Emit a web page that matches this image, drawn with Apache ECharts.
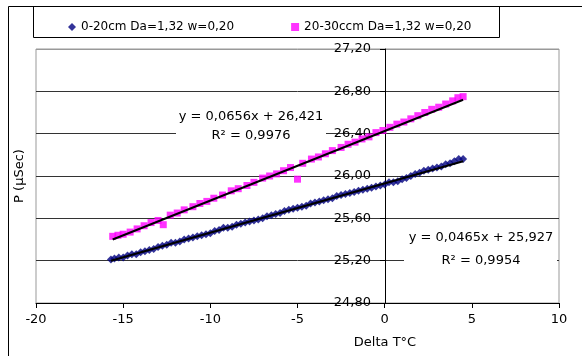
<!DOCTYPE html>
<html>
<head>
<meta charset="utf-8">
<script src="https://cdn.jsdelivr.net/npm/echarts@6/dist/echarts.min.js"></script>
<style>
  html, body { margin: 0; padding: 0; background: #fff; }
  #chart { width: 582px; height: 356px; }
</style>
</head>
<body>
<div id="chart"></div>
<script>
// series names
const nameBlue = '0-20cm Da=1,32 w=0,20';
const namePink = '20-30ccm Da=1,32 w=0,20';

// 0-20cm points [Delta T, P]
const blueData = [
  [-15.7, 25.21], [-15.5, 25.22], [-15.25, 25.23], [-15.0, 25.23], [-14.75, 25.25],
  [-14.5, 25.26], [-14.25, 25.26], [-14.0, 25.28], [-13.75, 25.29], [-13.5, 25.30],
  [-13.25, 25.31], [-13.0, 25.33], [-12.75, 25.34], [-12.5, 25.35], [-12.25, 25.37],
  [-12.0, 25.37], [-11.75, 25.38], [-11.5, 25.40], [-11.25, 25.41], [-11.0, 25.42],
  [-10.75, 25.43], [-10.5, 25.44], [-10.25, 25.45], [-10.0, 25.46], [-9.75, 25.48],
  [-9.5, 25.49], [-9.25, 25.51], [-9.0, 25.51], [-8.75, 25.52], [-8.5, 25.54],
  [-8.25, 25.55], [-8.0, 25.56], [-7.75, 25.57], [-7.5, 25.58], [-7.25, 25.59],
  [-7.0, 25.60], [-6.75, 25.62], [-6.5, 25.63], [-6.25, 25.64], [-6.0, 25.65],
  [-5.75, 25.67], [-5.5, 25.68], [-5.25, 25.69], [-5.0, 25.70], [-4.75, 25.71],
  [-4.5, 25.72], [-4.25, 25.74], [-4.0, 25.75], [-3.75, 25.76], [-3.5, 25.77],
  [-3.25, 25.78], [-3.0, 25.79], [-2.75, 25.81], [-2.5, 25.82], [-2.25, 25.83],
  [-2.0, 25.84], [-1.75, 25.85], [-1.5, 25.86], [-1.25, 25.87], [-1.0, 25.88],
  [-0.75, 25.89], [-0.5, 25.90], [-0.25, 25.91], [0.0, 25.92], [0.25, 25.94],
  [0.5, 25.94], [0.75, 25.95], [1.0, 25.97], [1.25, 25.98], [1.5, 26.00],
  [1.75, 26.02], [2.0, 26.03], [2.25, 26.05], [2.5, 26.06], [2.75, 26.07],
  [3.0, 26.08], [3.25, 26.09], [3.5, 26.11], [3.75, 26.12], [4.0, 26.14],
  [4.25, 26.16], [4.5, 26.16]
];

// 20-30cm points [Delta T, P]
const pinkData = [
  [-15.6, 25.43], [-15.3, 25.44], [-15.0, 25.45], [-14.6, 25.47], [-14.2, 25.50],
  [-13.8, 25.53], [-13.4, 25.56], [-13.0, 25.58], [-12.7, 25.54], [-12.3, 25.63],
  [-11.9, 25.65], [-11.5, 25.68], [-11.0, 25.71], [-10.6, 25.74], [-10.2, 25.76],
  [-9.8, 25.79], [-9.3, 25.82], [-8.8, 25.86], [-8.4, 25.88], [-7.9, 25.91],
  [-7.5, 25.94], [-7.0, 25.98], [-6.6, 26.00], [-6.2, 26.02], [-5.8, 26.05],
  [-5.4, 26.08], [-5.0, 25.97], [-4.7, 26.12], [-4.2, 26.16], [-3.8, 26.18],
  [-3.4, 26.21], [-3.0, 26.24], [-2.5, 26.27], [-2.1, 26.30], [-1.7, 26.32],
  [-1.3, 26.35], [-0.9, 26.37], [-0.5, 26.41], [-0.1, 26.43], [0.3, 26.46],
  [0.7, 26.49], [1.1, 26.51], [1.5, 26.54], [1.9, 26.57], [2.3, 26.60],
  [2.7, 26.63], [3.1, 26.65], [3.5, 26.68], [3.9, 26.71], [4.2, 26.74],
  [4.5, 26.75]
];

// trendline end points
const blueTrend = [[-15.7, 25.20], [4.5, 26.14]];
const pinkTrend = [[-15.6, 25.40], [4.5, 26.72]];

// trendline labels
const pinkEq = ['y = 0,0656x + 26,421', 'R² = 0,9976'];
const blueEq = ['y = 0,0465x + 25,927', 'R² = 0,9954'];

const font = '"DejaVu Sans", sans-serif';
const fmtY = v => v.toFixed(2).replace('.', ',');

let myChart = echarts.init(document.getElementById('chart'));
myChart.setOption({
  backgroundColor: '#fff',
  animation: false,
  textStyle: { fontFamily: font },
  grid: {
    left: 36, right: 23, top: 49, bottom: 53,
    containLabel: false,
    outerBoundsMode: 'none',
    show: true,
    borderColor: '#999',
    borderWidth: 1,
    backgroundColor: '#fff'
  },
  legend: {
    left: 63,
    top: 16,
    itemGap: 57,
    itemWidth: 8,
    itemHeight: 8,
    textStyle: { color: '#000', fontSize: 12, fontFamily: font },
    data: [nameBlue, namePink]
  },
  xAxis: {
    type: 'value',
    min: -20,
    max: 10,
    interval: 5,
    axisLine: { onZero: false, lineStyle: { color: '#000', width: 1 } },
    axisTick: { show: true, length: 5, lineStyle: { color: '#000' } },
    axisLabel: { color: '#000', fontSize: 13, margin: 10 },
    splitLine: { show: false }
  },
  yAxis: {
    type: 'value',
    position: 'left',
    offset: -349,
    min: 24.8,
    max: 27.2,
    interval: 0.4,
    axisLine: { show: true, onZero: false, lineStyle: { color: '#000', width: 1 } },
    axisTick: { show: true, length: 5, lineStyle: { color: '#000' } },
    axisLabel: { color: '#000', fontSize: 13, margin: 14, formatter: fmtY },
    splitLine: {
      show: true,
      lineStyle: { color: ['#000', '#333', '#333', '#333', '#333', '#333', '#999'], width: 1 }
    }
  },
  series: [
    {
      name: nameBlue,
      type: 'scatter',
      symbol: 'diamond',
      symbolSize: 8,
      itemStyle: { color: '#000080' },
      data: blueData,
      z: 3
    },
    {
      name: namePink,
      type: 'scatter',
      symbol: 'rect',
      symbolSize: 7,
      itemStyle: { color: '#ff00ff' },
      data: pinkData,
      z: 3
    },
    {
      name: 'trend1',
      type: 'line',
      data: pinkTrend,
      showSymbol: false,
      symbol: 'none',
      lineStyle: { color: '#000', width: 2 },
      z: 4
    },
    {
      name: 'trend2',
      type: 'line',
      data: blueTrend,
      showSymbol: false,
      symbol: 'none',
      lineStyle: { color: '#000', width: 2 },
      z: 4
    }
  ],
  graphic: [
    // outer chart frame
    { type: 'rect', z: 100, shape: { x: 8.5, y: 6.5, width: 600, height: 400 },
      style: { fill: 'none', stroke: '#000', lineWidth: 1 } },
    // legend frame
    { type: 'rect', z: 100, shape: { x: 33.5, y: 6.5, width: 466, height: 31 },
      style: { fill: 'none', stroke: '#000', lineWidth: 1 } },
    // axis names
    { type: 'text', z: 100, x: 20, y: 176, rotation: Math.PI / 2,
      style: { text: 'P (µSec)', font: '13px ' + font, fill: '#000', align: 'center', verticalAlign: 'middle' } },
    { type: 'text', z: 100, x: 385, y: 343,
      style: { text: 'Delta T°C', font: '13px ' + font, fill: '#000', align: 'center', verticalAlign: 'middle' } },
    // trendline labels
    { type: 'rect', z: 100, shape: { x: 176, y: 106, width: 150, height: 40 },
      style: { fill: '#fff' } },
    { type: 'text', z: 101, x: 251, y: 117,
      style: { text: pinkEq[0], font: '13px ' + font, fill: '#000', align: 'center', verticalAlign: 'middle' } },
    { type: 'text', z: 101, x: 251, y: 136,
      style: { text: pinkEq[1], font: '13px ' + font, fill: '#000', align: 'center', verticalAlign: 'middle' } },
    { type: 'rect', z: 100, shape: { x: 404, y: 226, width: 153, height: 46 },
      style: { fill: '#fff' } },
    { type: 'text', z: 101, x: 481, y: 238,
      style: { text: blueEq[0], font: '13px ' + font, fill: '#000', align: 'center', verticalAlign: 'middle' } },
    { type: 'text', z: 101, x: 481, y: 261,
      style: { text: blueEq[1], font: '13px ' + font, fill: '#000', align: 'center', verticalAlign: 'middle' } }
  ]
});
</script>
</body>
</html>
